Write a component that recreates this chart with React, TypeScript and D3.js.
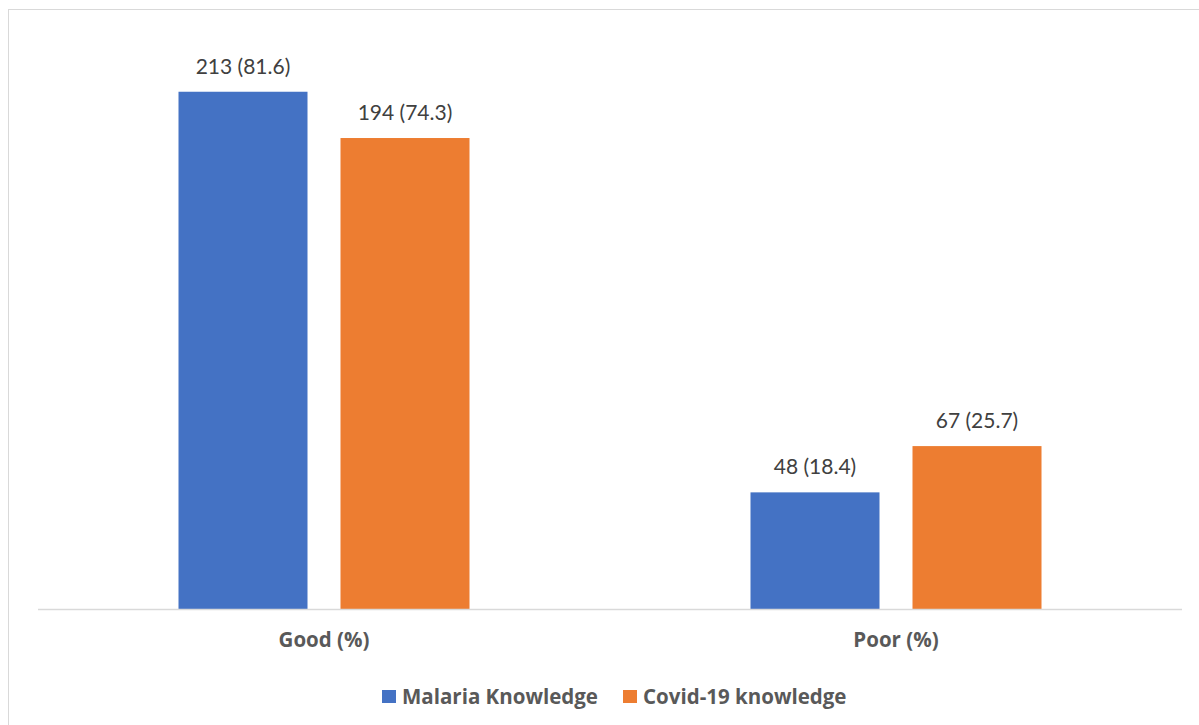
import React from "react";
import * as d3 from "d3";

const categories = ["Good (%)", "Poor (%)"];
const seriesNames = ["Malaria Knowledge", "Covid-19 knowledge"];
const malariaPct = [81.6, 18.4];
const covidPct = [74.3, 25.7];
const malariaN = [213, 48];
const covidN = [194, 67];
const colors = ["#4472C4", "#ED7D31"];

export default function App() {
  const W = 1199, H = 725;
  const left = 38, right = 1182, top = 38.5, bottom = 609;
  const x = d3.scaleBand<string>().domain(categories).range([left, right]);
  const y = d3.scaleLinear().domain([0, 90]).range([bottom, top]);
  const bw = 129;
  const gap = 33;
  const series = [
    { name: seriesNames[0], pct: malariaPct, n: malariaN, color: colors[0] },
    { name: seriesNames[1], pct: covidPct, n: covidN, color: colors[1] },
  ];
  const font = "Lato, 'Open Sans', sans-serif";
  const boldFont = "'Open Sans', Lato, sans-serif";
  return (
    <svg width={W} height={H} style={{ position: "absolute", left: 0, top: 0 }}>
      <rect x={0} y={0} width={W} height={H} fill="#fff" />
      <rect x={8.5} y={9.5} width={W + 10} height={H + 10} fill="#fff" stroke="#d9d9d9" strokeWidth={1} />
      {categories.map((c, ci) => {
        const cx = (x(c) as number) + x.bandwidth() / 2;
        const start = cx - (2 * bw + gap) / 2;
        return (
          <g key={c}>
            {series.map((s, si) => {
              const bx = start + si * (bw + gap);
              const v = s.pct[ci];
              return (
                <g key={s.name}>
                  <rect x={bx} y={y(v)} width={bw} height={bottom - y(v)} fill={s.color} />
                  <text x={bx + bw / 2} y={y(v) - 18} textAnchor="middle" fontFamily={font} fontSize={21} fill="#404040">
                    {`${s.n[ci]} (${v})`}
                  </text>
                </g>
              );
            })}
            <text x={cx} y={647} textAnchor="middle" fontFamily={boldFont} fontSize={20.5} fontWeight="bold" fill="#595959">
              {c}
            </text>
          </g>
        );
      })}
      <line x1={left} x2={right} y1={bottom + 0.5} y2={bottom + 0.5} stroke="#d9d9d9" strokeWidth={1.5} />
      {series.map((s, si) => {
        const lx = si === 0 ? 382 : 623;
        return (
          <g key={s.name}>
            <rect x={lx} y={690} width={14} height={13} fill={s.color} />
            <text x={lx + 20} y={704} fontFamily={boldFont} fontSize={20.5} fontWeight="bold" fill="#595959">
              {s.name}
            </text>
          </g>
        );
      })}
    </svg>
  );
}
